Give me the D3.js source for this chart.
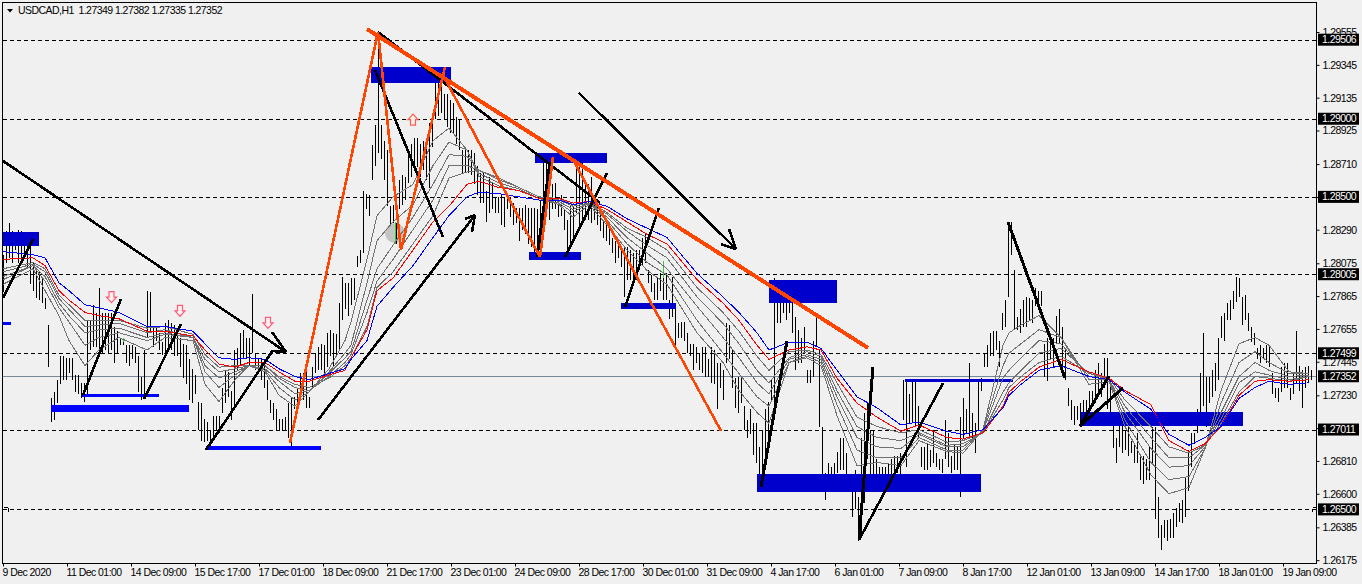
<!DOCTYPE html>
<html><head><meta charset="utf-8">
<script src="https://cdn.jsdelivr.net/npm/d3@7/dist/d3.min.js"></script>
<style>html,body{margin:0;padding:0;background:#f0f0f0}svg{display:block}svg text{font-family:"Liberation Sans",Arial,sans-serif;font-size:10.5px;letter-spacing:-0.55px;fill:#000}</style>
</head><body><svg id="c" width="1362" height="584"></svg>
<script>
const title="USDCAD,H1  1.27349 1.27382 1.27335 1.27352";
const BASE=1.26, PIP=0.0001, BAR_STEP=1.5;
const highs=[213,228,233,228,225,229,228,226,222,219,
208,203,202,198,185,168,121,125,133,148,
148,147,147,147,136,136,131,131,171,171,
181,176,192,176,176,176,176,167,164,160,
160,155,155,155,154,148,135,152,190,189,
167,167,163,157,169,171,169,168,163,160,
156,155,146,140,136,119,118,108,106,101,
110,110,110,128,139,138,126,152,153,163,
165,160,160,188,150,146,147,144,133,120,
118,114,108,108,109,118,122,122,128,137,
137,141,122,141,150,154,156,155,163,165,
163,162,182,199,195,195,198,198,212,216,
254,252,251,283,296,355,296,286,280,244,
245,233,261,264,263,276,284,288,288,284,
286,283,297,304,333,333,327,316,316,312,
310,301,299,280,280,280,280,278,270,265,
265,254,263,259,250,250,251,250,250,250,
246,243,243,243,245,243,243,243,242,248,
278,272,250,258,259,248,251,242,235,244,
244,276,276,276,258,258,263,250,248,242,
235,232,231,224,222,222,216,218,218,216,
214,216,216,224,227,203,200,195,198,201,
208,201,184,199,178,169,170,170,163,156,
156,154,150,154,154,146,154,152,144,144,
139,169,168,152,134,135,135,116,107,114,
105,105,90,101,114,119,133,198,184,186,
188,185,188,184,173,165,160,167,139,139,
158,174,152,103,73,80,77,80,87,96,
96,86,69,67,75,58,96,112,118,101,
101,82,77,77,77,80,82,84,84,86,
133,133,124,133,133,116,90,90,92,88,
101,86,82,82,107,99,84,92,90,109,
121,114,144,112,105,133,134,150,155,163,
164,164,158,176,184,234,234,203,173,178,
184,186,185,184,192,190,190,156,160,163,
160,174,178,167,152,128,120,116,116,118,
120,120,126,126,139,144,137,147,147,133,
107,96,107,105,101,103,94,92,99,85,
84,82,90,103,103,58,40,43,43,44,
48,51,54,56,71,88,99,99,114,137,
163,135,135,139,144,160,174,176,182,184,
190,199,198,186,187,176,167,163,153,155,
153,155,155,137,128,128,141,144,144,128,
137,164,142,139,141,142,139];
const lows=[189,208,211,208,216,208,211,213,204,194,
190,185,184,182,178,141,106,107,118,130,
133,133,137,133,125,124,121,119,123,152,
154,154,150,150,152,150,152,144,150,155,
155,144,142,146,144,125,120,121,160,163,
154,158,152,149,150,152,152,148,148,141,
134,130,120,118,124,101,94,93,94,94,
96,101,99,112,118,122,107,114,139,142,
146,146,142,150,139,139,133,128,120,112,
107,101,100,100,100,96,88,114,116,120,
120,115,115,128,137,139,139,135,141,148,
141,148,152,171,178,174,181,184,205,208,
214,242,238,261,270,278,274,261,244,232,
233,220,242,245,248,259,263,269,269,263,
267,261,256,282,300,302,304,299,295,291,
291,284,280,265,265,265,264,258,251,246,
246,234,240,242,240,240,232,231,242,237,
232,233,222,229,226,220,218,214,213,214,
233,237,235,242,242,237,238,229,212,220,
224,240,232,235,235,235,233,235,232,228,
224,222,219,214,208,211,205,186,197,197,
195,197,203,206,208,195,189,184,184,190,
184,184,172,173,152,160,160,158,150,148,
139,144,139,137,135,135,131,130,114,128,
120,144,146,128,115,112,118,101,96,98,
85,80,64,75,86,94,120,118,169,169,
176,171,176,163,139,144,144,150,131,131,
135,154,103,71,56,64,64,67,73,75,
75,67,62,45,50,30,35,54,82,67,
64,62,62,64,64,67,67,73,73,71,
107,77,105,105,103,96,77,75,75,77,
80,77,75,73,82,77,73,75,75,58,
96,99,96,96,86,101,126,141,141,148,
148,152,141,165,167,186,213,165,165,163,
167,167,171,169,180,180,180,135,132,146,
141,156,156,141,133,116,107,104,107,104,
109,112,114,116,118,126,122,128,114,107,
89,80,90,86,88,84,86,80,80,69,
66,69,69,80,44,32,24,32,30,32,
32,39,42,41,45,62,77,92,99,109,
116,103,118,122,126,133,160,158,171,171,
178,183,186,168,171,164,157,155,146,144,
146,144,141,124,121,119,125,128,128,120,
124,131,126,115,128,131,133];
const greenHours=[[60,160,157],[196,234,220],[330,209,198]];
const maHours=[0,15,21,28,33,41,48,58,72,81,95,101,108,116,123,131,138,146,153,163,171,174,182,187,195,205,215,223,232,238,248,258,268,278,285,293,302,312,322,332,347,360,368,377,383,393,402,409,417,427,437,449,458,472,480,490,500,503,509,518,529,543,553,561,574,583,593,601,609,618,626,633,643,653];
const blueMA=[215,213,211,195,190,181,179,176,167,167,164,156,147,146,147,146,140,135,133,137,140,146,158,180,192,206,224,238,250,253,252,250,248,248,245,247,244,236,230,224,201,186,176,163,152,157,157,153,139,122,115,104,106,100,98,101,115,123,130,139,142,135,133,125,114,98,91,96,103,121,128,132,130,131];
const redMA=[210,211,206,190,184,176,174,172,164,164,161,152,143,141,144,144,138,132,132,136,139,147,165,190,198,216,234,244,258,260,256,254,249,249,246,247,242,234,226,220,197,182,171,155,146,152,154,152,134,118,109,100,104,96,95,99,116,125,132,141,146,138,134,126,117,94,87,92,103,123,132,133,132,133];
const grey1=[194,204,190,174,158,142,152,160,152,160,158,130,119,133,142,138,123,116,125,140,158,170,210,238,250,258,286,294,280,263,257,254,249,245,237,245,232,216,203,194,163,144,126,112,105,144,147,142,110,78,80,78,94,87,86,101,155,163,168,174,160,130,132,103,72,60,64,89,126,156,160,155,138,137];
const grey2=[197,206,196,179,170,155,160,163,158,162,160,138,128,136,142,139,128,120,125,138,150,155,195,222,234,245,270,285,280,265,259,255,249,246,240,246,235,220,208,200,171,150,137,122,116,144,148,144,117,88,83,83,96,88,88,101,142,150,156,165,160,133,133,107,80,69,71,89,118,144,151,144,137,137];
const grey3=[199,206,199,182,174,163,165,166,160,163,160,142,134,138,142,140,132,124,126,137,147,151,184,204,219,237,258,277,276,267,261,256,250,247,242,246,237,224,214,204,180,160,147,131,124,146,149,146,122,96,90,89,98,90,90,100,134,139,147,158,156,135,133,112,89,77,78,90,112,135,144,139,135,136];
const grey4=[202,207,202,185,178,167,168,169,163,165,160,146,138,140,142,142,134,128,126,135,144,149,176,196,210,229,248,270,270,267,262,256,250,248,244,246,239,228,219,211,186,169,156,139,131,147,151,148,126,103,96,94,99,91,92,99,125,131,139,150,153,137,133,116,96,83,83,91,108,131,138,136,133,135];
const grey5=[204,208,204,187,181,171,171,171,166,167,162,149,141,142,142,142,135,130,128,134,142,147,167,192,202,220,238,262,266,267,262,256,250,249,245,247,240,230,224,216,192,176,164,148,139,151,152,149,131,109,103,99,101,93,94,99,120,128,135,144,148,137,134,120,103,90,86,91,105,125,135,134,132,135];
const levels=[1.29506,1.29,1.285,1.28005,1.27499,1.27011,1.265];
const lastPrice=1.27352;
const priceTicks=[1.29555,1.29345,1.29135,1.28925,1.2871,1.285,1.2829,1.28075,1.27865,1.27655,1.27445,1.2723,1.2702,1.2681,1.266,1.26385,1.26175];
const timeTicks=[0,32,64,96,128,160,192,224,256,288,320,352,384,416,448,480,512,544,576,608,640];
const timeLabels=["9 Dec 2020","11 Dec 01:00","14 Dec 09:00","15 Dec 17:00","17 Dec 01:00","18 Dec 09:00","21 Dec 17:00","23 Dec 01:00","24 Dec 09:00","28 Dec 17:00","30 Dec 01:00","31 Dec 09:00","4 Jan 17:00","6 Jan 01:00","7 Jan 09:00","8 Jan 17:00","12 Jan 01:00","13 Jan 09:00","14 Jan 17:00","18 Jan 01:00","19 Jan 09:00"];
const zonesDark=[[0,18,227.5,218.6],[184,224,333.1,322.9],[266,302,278.1,271.7],[263,289,214.7,209.6],[309,336.5,182.1,178.2],[383,417,196.8,182.1],[377,489,72.6,61.1],[451,505,133.4,131.5],[539,620,112.3,103.4]];
const zonesBlue=[[24,93,116.8,112.3],[39.5,78,123.8,121.9],[101.5,159,90.6,88],[0,4,169.9,168]];
const blackLines=[[0,273,141.5,150.7,2.6],[134.5,163.5,141.5,150.7,2.6],[134.5,151.4,141.5,150.7,2.6],[0,185.3,15,223,2.6],[40,123.2,59,184.6,2.6],[70.5,120.6,89,168.6,2.6],[101.5,88,135,152,2.6],[157.5,107.2,236,238.4,2.6],[231,235.8,236,238.4,2.6],[234.5,227.5,236,238.4,2.6],[186,331.2,220,224.3,2.6],[187.5,355.5,298.5,246.1,2.6],[267,211.5,273.5,272.3,3],[281,211.5,302,265.3,2.6],[311,179.5,328,242.9,2.6],[288,316.5,366.5,216.6,2.6],[363,229.4,366.5,216.6,2.6],[359,219.8,366.5,216.6,2.6],[379,64.3,392,157.8,3],[428,30.4,435,141.1,3],[428,30.4,470,130.9,2.6],[502.5,233.9,531,134.1,3],[538.5,103.4,553,135.4,3],[538.5,103.4,560,127.7,3],[0.5,50.9,2.5,50.9,1],[2.5,50.9,2.5,48.3,1],[655,51,656.5,51,1],[654.5,50.2,654.5,48.3,1]];
const orangeLines=[[182,357.4,432.5,153.3,4],[143.5,92.5,187.5,355.5,2.6],[187.5,355.5,199,216,2.6],[199,216,221,333.1,2.6],[220,328,268.5,211.5,2.6],[268.5,211.5,275,275.5,2.6],[284.5,274.9,359,100.2,2.6]];
const downArrows=[[54.25,185.9],[88.5,177],[132.5,169.3]];
const upArrows=[[205,299.5]];
const circleMark=[196,226.9];

const px=v=>BASE+v*PIP;
const x=d3.scaleLinear().domain([0,654]).range([3,1311]);
const y=d3.scaleLinear().domain([1.2976,1.2656]).range([0,500]);
const svg=d3.select("#c");
const L=1316,B=563;
svg.append("rect").attr("width",1362).attr("height",584).attr("fill","#f0f0f0");
const plot=svg.append("g");
plot.selectAll(".lv").data(levels).join("line").attr("x1",3).attr("x2",L).attr("y1",d=>Math.round(y(d))+.5).attr("y2",d=>Math.round(y(d))+.5).attr("stroke","#000").attr("stroke-dasharray","4 3");
plot.append("line").attr("x1",3).attr("x2",L).attr("y1",Math.round(y(lastPrice))+.5).attr("y2",Math.round(y(lastPrice))+.5).attr("stroke","#778899");
plot.append("circle").attr("cx",x(circleMark[0])).attr("cy",y(px(circleMark[1]))).attr("r",10).attr("fill","#c4c4c4");
plot.selectAll(".bar").data(highs).join("rect").attr("x",(d,i)=>Math.round(x(i*BAR_STEP))).attr("width",1).attr("y",d=>y(px(d))).attr("height",(d,i)=>y(px(lows[i]))-y(px(d))).attr("fill","#000").attr("shape-rendering","crispEdges");
plot.selectAll(".gb").data(greenHours).join("rect").attr("x",d=>Math.round(x(d[0]))).attr("width",1).attr("y",d=>y(px(d[1]))).attr("height",d=>y(px(d[2]))-y(px(d[1]))).attr("fill","#32cd32").attr("shape-rendering","crispEdges");
const rect=(arr,col)=>plot.selectAll(null).data(arr).join("rect").attr("x",d=>x(d[0])).attr("width",d=>x(d[1])-x(d[0])).attr("y",d=>y(px(d[2]))).attr("height",d=>y(px(d[3]))-y(px(d[2]))).attr("fill",col).attr("shape-rendering","crispEdges");
rect(zonesDark,"#0000cd");rect(zonesBlue,"#0000ff");
const line=d3.line().x((d,i)=>x(maHours[i])).y(d=>y(px(d))).curve(d3.curveLinear);
[grey1,grey2,grey3,grey4,grey5].forEach(s=>plot.append("path").attr("d",line(s)).attr("fill","none").attr("stroke","#707070").attr("stroke-width",1).attr("shape-rendering","crispEdges"));
plot.append("path").attr("d",line(redMA)).attr("fill","none").attr("stroke","#ff0000").attr("shape-rendering","crispEdges");
plot.append("path").attr("d",line(blueMA)).attr("fill","none").attr("stroke","#0000ff").attr("shape-rendering","crispEdges");
const seg=(arr,col)=>plot.selectAll(null).data(arr).join("line").attr("x1",d=>x(d[0])).attr("y1",d=>y(px(d[1]))).attr("x2",d=>x(d[2])).attr("y2",d=>y(px(d[3]))).attr("stroke",col).attr("stroke-width",d=>d[4]).attr("shape-rendering","crispEdges");
seg(blackLines,"#000");seg(orangeLines,"#ff4500");
const arrow=(d,dir)=>{const X=x(d[0]),Y=y(px(d[1])),s=dir;return `M${X-2.5},${Y-5.5*s}L${X+2.5},${Y-5.5*s}L${X+2.5},${Y}L${X+5},${Y}L${X},${Y+5.5*s}L${X-5},${Y}L${X-2.5},${Y}Z`};
plot.selectAll(null).data(downArrows).join("path").attr("d",d=>arrow(d,1)).attr("fill","#fff0f0").attr("stroke","#ff5a78").attr("stroke-width",1.2);
plot.selectAll(null).data(upArrows).join("path").attr("d",d=>arrow(d,-1)).attr("fill","#fff3e8").attr("stroke","#ff5a50").attr("stroke-width",1.2);
svg.append("rect").attr("x",2.5).attr("y",2.5).attr("width",L-2).attr("height",B-2).attr("fill","none").attr("stroke","#000");
const ax=d3.axisRight(y).tickValues(priceTicks).tickFormat(d3.format(".5f")).tickSize(3).tickPadding(3);
const gy=svg.append("g").attr("transform",`translate(${L+.5},0)`).call(ax);
gy.attr("font-family",null).attr("font-size",null);gy.select(".domain").remove();
const at=d3.axisBottom(x).tickValues(timeTicks).tickFormat((d,i)=>timeLabels[i]).tickSize(3).tickPadding(2);
const gx=svg.append("g").attr("transform",`translate(0,${B+.5})`).call(at);
gx.attr("font-family",null).attr("font-size",null);gx.select(".domain").remove();gx.selectAll("text").attr("text-anchor","start").attr("dx",-1);
const tags=svg.selectAll(null).data(levels.concat([lastPrice])).join("g").attr("transform",d=>`translate(1318,${y(d)})`);
tags.append("rect").attr("y",-6).attr("width",41).attr("height",12).attr("fill","#000");
tags.append("text").attr("x",4).attr("y",3.5).style("fill","#fff").text(d=>d.toFixed(5));
svg.append("path").attr("d",d3.line()([[7,9],[13,9],[10,12.5]])+"Z").attr("fill","#000");
svg.append("text").attr("x",18).attr("y",14).attr("xml:space","preserve").style("white-space","pre").text(title);
</script></body></html>
